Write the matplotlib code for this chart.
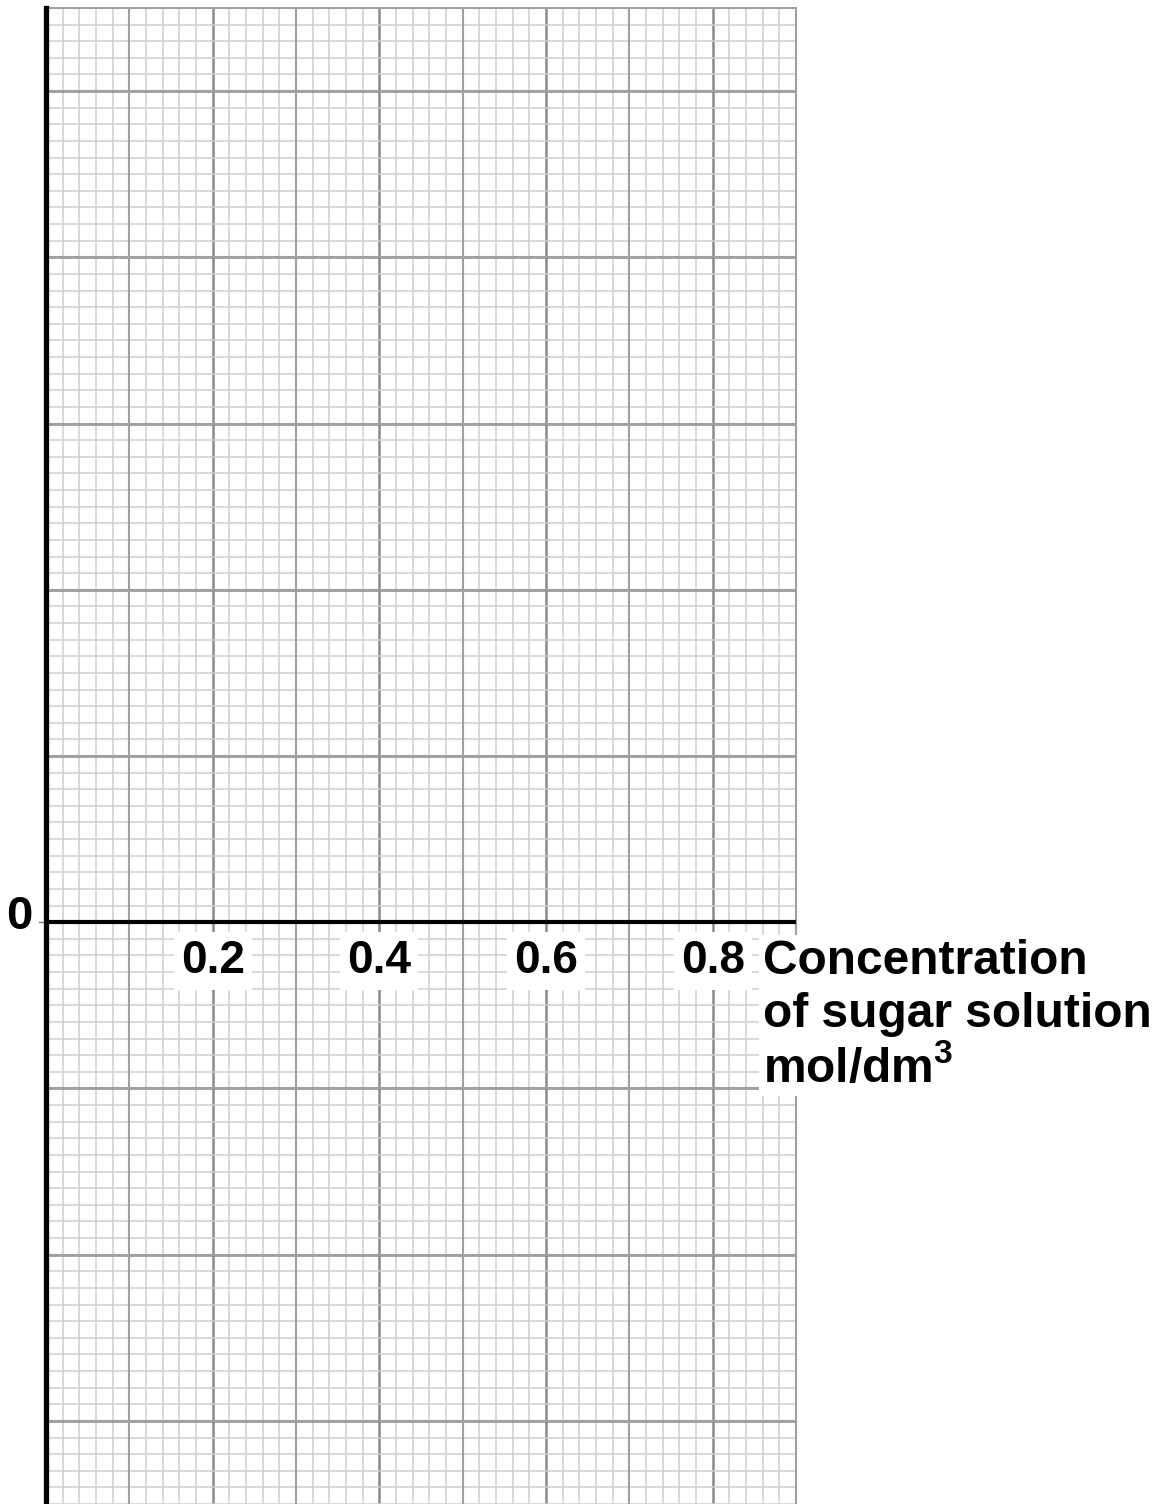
import numpy as np
import matplotlib
matplotlib.use("Agg")
import matplotlib.pyplot as plt
from matplotlib.ticker import MultipleLocator

plt.rcParams['font.family'] = ['Liberation Sans', 'DejaVu Sans']
plt.rcParams['font.weight'] = 'bold'
plt.rcParams['mathtext.fontset'] = 'custom'
plt.rcParams['mathtext.rm'] = 'Liberation Sans:bold'
plt.rcParams['mathtext.default'] = 'rm'

# axis data
x_ticks = [0.2, 0.4, 0.6, 0.8]
x_tick_labels = ['0.2', '0.4', '0.6', '0.8']
y_tick_labels = ['0']
x_label = 'Concentration\nof sugar solution\nmol/dm$^{3}$'
x_min, x_max = 0.0, 0.9
y_min, y_max = -7, 11

fig = plt.figure(figsize=(11.72, 15.04), dpi=100)
ax = fig.add_axes([46 / 1172, 0, 750 / 1172, 1496 / 1504])
ax.set_xlim(x_min, x_max)
ax.set_ylim(y_min, y_max)

# graph paper: light minor, medium at 0.1 / 1 unit, darker major
ax.xaxis.set_major_locator(MultipleLocator(0.2))
ax.xaxis.set_minor_locator(MultipleLocator(0.02))
ax.yaxis.set_major_locator(MultipleLocator(2))
ax.yaxis.set_minor_locator(MultipleLocator(0.2))
ax.grid(which='minor', color='#cfcfcf', lw=1.1, zorder=0)
ax.grid(which='major', color='#8a8a8a', lw=1.8, zorder=1)
for xv in np.arange(0.1, x_max, 0.2):
    ax.axvline(xv, color='#a0a0a0', lw=1.5, zorder=1)
for yv in np.arange(y_min + 1, y_max, 2):
    ax.axhline(yv, color='#a0a0a0', lw=1.5, zorder=1)
ax.set_axisbelow(True)

ax.tick_params(which='both', length=0, labelbottom=False, labelleft=False)

for s in ['top', 'right']:
    ax.spines[s].set_color('#a0a0a0')
    ax.spines[s].set_linewidth(1.5)
ax.spines['bottom'].set_visible(False)
ax.spines['left'].set_color('black')
ax.spines['left'].set_linewidth(3.8)
ax.spines['left'].set_zorder(5)

# x axis line at zero
ax.axhline(0, color='black', lw=3, zorder=4)

# y tick "0"
ax.plot([-0.008, 0], [0, 0], color='#777777', lw=1, clip_on=False, zorder=3)
ax.text(-0.0156, 0.06, y_tick_labels[0], ha='right', va='center', fontsize=34,
        fontweight='bold', clip_on=False)

box = dict(facecolor='white', edgecolor='none', pad=5)
for xv, lab in zip(x_ticks, x_tick_labels):
    ax.text(xv, -0.2, lab, ha='center', va='top', fontsize=33, fontweight='bold',
            bbox=box, zorder=6)

ax.text(0.8604, -0.2, x_label, ha='left', va='top', fontsize=34.5, fontweight='bold',
        linespacing=1.22, bbox=dict(facecolor='white', edgecolor='none', pad=3),
        zorder=6, clip_on=False)

fig.savefig('out.png', dpi=100, facecolor='white')
